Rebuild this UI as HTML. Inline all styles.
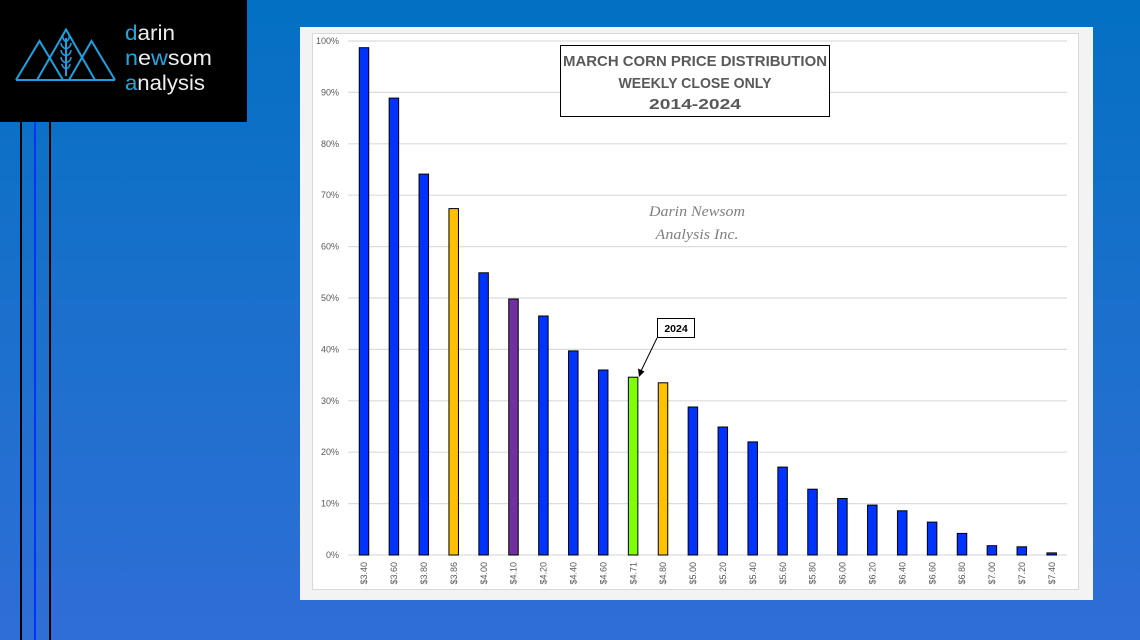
<!DOCTYPE html>
<html>
<head>
<meta charset="utf-8">
<style>
html,body{margin:0;padding:0;width:1140px;height:640px;overflow:hidden;}
svg{display:block;}
</style>
</head>
<body>
<svg width="1140" height="640" viewBox="0 0 1140 640" xmlns="http://www.w3.org/2000/svg">
<defs>
<linearGradient id="bg" x1="0" y1="0" x2="0" y2="1">
<stop offset="0" stop-color="#0370c3"/>
<stop offset="0.5" stop-color="#1b70cc"/>
<stop offset="1" stop-color="#2f6ed7"/>
</linearGradient>
</defs>
<rect x="0" y="0" width="1140" height="640" fill="url(#bg)"/>

<!-- left vertical lines -->
<rect x="20" y="120" width="2" height="520" fill="#000"/>
<rect x="34" y="120" width="2" height="520" fill="#0033ff"/>
<rect x="49" y="120" width="2" height="520" fill="#000"/>

<!-- logo -->
<rect x="0" y="0" width="247" height="122" fill="#000"/>
<g fill="none" stroke="#1ba1e2" stroke-width="2" stroke-linejoin="miter">
<line x1="16" y1="80" x2="115" y2="80"/>
<polyline points="16,80 39.5,41 63,80"/>
<polyline points="69,80 91.5,41 115,80"/>
<polyline points="37,80 66,29.5 95,80"/>
<line x1="66" y1="38" x2="66" y2="76"/>
<path d="M66,42 q-4,-3 -3,-7 M66,42 q4,-3 3,-7 M66,49 q-5,-2 -5,-6 M66,49 q5,-2 5,-6 M66,56 q-5,-2 -5,-6 M66,56 q5,-2 5,-6 M66,63 q-5,-2 -5,-6 M66,63 q5,-2 5,-6 M66,69 q-4,-2 -4,-5 M66,69 q4,-2 4,-5" stroke-width="1.5"/>
</g>
<g font-family="Liberation Sans, sans-serif" font-size="21" fill="#eeeeee">
<text x="125" y="40" textLength="50" lengthAdjust="spacingAndGlyphs"><tspan fill="#1ea8e2">d</tspan>arin</text>
<text x="125" y="65" textLength="87" lengthAdjust="spacingAndGlyphs"><tspan fill="#1ea8e2">n</tspan>e<tspan fill="#1ea8e2">w</tspan>som</text>
<text x="125" y="90" textLength="80" lengthAdjust="spacingAndGlyphs"><tspan fill="#1ea8e2">a</tspan>nalysis</text>
</g>

<!-- chart panel -->
<rect x="300" y="27" width="793" height="573" fill="#f3f3f3"/>
<rect x="312.5" y="33.5" width="766" height="556" fill="#ffffff" stroke="#d9d9d9" stroke-width="1"/>

<!-- gridlines -->
<g stroke="#dcdcdc" stroke-width="1.2">
<line x1="348" y1="41" x2="1067" y2="41"/>
<line x1="348" y1="92.4" x2="1067" y2="92.4"/>
<line x1="348" y1="143.8" x2="1067" y2="143.8"/>
<line x1="348" y1="195.2" x2="1067" y2="195.2"/>
<line x1="348" y1="246.6" x2="1067" y2="246.6"/>
<line x1="348" y1="298" x2="1067" y2="298"/>
<line x1="348" y1="349.4" x2="1067" y2="349.4"/>
<line x1="348" y1="400.8" x2="1067" y2="400.8"/>
<line x1="348" y1="452.2" x2="1067" y2="452.2"/>
<line x1="348" y1="503.6" x2="1067" y2="503.6"/>
<line x1="348" y1="555" x2="1067" y2="555"/>
</g>

<!-- y labels -->
<g font-family="Liberation Sans, sans-serif" font-size="9" fill="#595959" text-anchor="end">
<text x="339" y="44">100%</text>
<text x="339" y="95.4">90%</text>
<text x="339" y="146.8">80%</text>
<text x="339" y="198.2">70%</text>
<text x="339" y="249.6">60%</text>
<text x="339" y="301">50%</text>
<text x="339" y="352.4">40%</text>
<text x="339" y="403.8">30%</text>
<text x="339" y="455.2">20%</text>
<text x="339" y="506.6">10%</text>
<text x="339" y="558">0%</text>
</g>

<!-- bars -->
<g stroke="#000" stroke-width="1">
<rect x="359.25" y="47.7" width="9.5" height="507.3" fill="#0033ff"/>
<rect x="389.15" y="98.1" width="9.5" height="456.9" fill="#0033ff"/>
<rect x="419.05" y="174.1" width="9.5" height="380.9" fill="#0033ff"/>
<rect x="448.95" y="208.6" width="9.5" height="346.4" fill="#ffc000"/>
<rect x="478.85" y="272.8" width="9.5" height="282.2" fill="#0033ff"/>
<rect x="508.75" y="299" width="9.5" height="256" fill="#7030a0"/>
<rect x="538.65" y="316" width="9.5" height="239" fill="#0033ff"/>
<rect x="568.55" y="350.9" width="9.5" height="204.1" fill="#0033ff"/>
<rect x="598.45" y="370" width="9.5" height="185" fill="#0033ff"/>
<rect x="628.35" y="377.2" width="9.5" height="177.8" fill="#80ff00"/>
<rect x="658.25" y="382.8" width="9.5" height="172.2" fill="#ffc000"/>
<rect x="688.15" y="407" width="9.5" height="148" fill="#0033ff"/>
<rect x="718.05" y="427" width="9.5" height="128" fill="#0033ff"/>
<rect x="747.95" y="441.9" width="9.5" height="113.1" fill="#0033ff"/>
<rect x="777.85" y="467.1" width="9.5" height="87.9" fill="#0033ff"/>
<rect x="807.75" y="489.2" width="9.5" height="65.8" fill="#0033ff"/>
<rect x="837.65" y="498.5" width="9.5" height="56.5" fill="#0033ff"/>
<rect x="867.55" y="505.1" width="9.5" height="49.9" fill="#0033ff"/>
<rect x="897.45" y="510.8" width="9.5" height="44.2" fill="#0033ff"/>
<rect x="927.35" y="522.1" width="9.5" height="32.9" fill="#0033ff"/>
<rect x="957.25" y="533.4" width="9.5" height="21.6" fill="#0033ff"/>
<rect x="987.15" y="545.7" width="9.5" height="9.3" fill="#0033ff"/>
<rect x="1017.05" y="546.8" width="9.5" height="8.2" fill="#0033ff"/>
<rect x="1046.95" y="552.9" width="9.5" height="2.1" fill="#0033ff"/>
</g>

<!-- x labels -->
<g font-family="Liberation Sans, sans-serif" font-size="9" fill="#595959" text-anchor="end">
<text transform="translate(367.2,562) rotate(-90)">$3.40</text>
<text transform="translate(397.1,562) rotate(-90)">$3.60</text>
<text transform="translate(427,562) rotate(-90)">$3.80</text>
<text transform="translate(456.9,562) rotate(-90)">$3.86</text>
<text transform="translate(486.8,562) rotate(-90)">$4.00</text>
<text transform="translate(516.7,562) rotate(-90)">$4.10</text>
<text transform="translate(546.6,562) rotate(-90)">$4.20</text>
<text transform="translate(576.5,562) rotate(-90)">$4.40</text>
<text transform="translate(606.4,562) rotate(-90)">$4.60</text>
<text transform="translate(636.3,562) rotate(-90)">$4.71</text>
<text transform="translate(666.2,562) rotate(-90)">$4.80</text>
<text transform="translate(696.1,562) rotate(-90)">$5.00</text>
<text transform="translate(726,562) rotate(-90)">$5.20</text>
<text transform="translate(755.9,562) rotate(-90)">$5.40</text>
<text transform="translate(785.8,562) rotate(-90)">$5.60</text>
<text transform="translate(815.7,562) rotate(-90)">$5.80</text>
<text transform="translate(845.6,562) rotate(-90)">$6.00</text>
<text transform="translate(875.5,562) rotate(-90)">$6.20</text>
<text transform="translate(905.4,562) rotate(-90)">$6.40</text>
<text transform="translate(935.3,562) rotate(-90)">$6.60</text>
<text transform="translate(965.2,562) rotate(-90)">$6.80</text>
<text transform="translate(995.1,562) rotate(-90)">$7.00</text>
<text transform="translate(1025,562) rotate(-90)">$7.20</text>
<text transform="translate(1054.9,562) rotate(-90)">$7.40</text>
</g>

<!-- title box -->
<rect x="560.5" y="45.5" width="269" height="71" fill="#ffffff" stroke="#000" stroke-width="1"/>
<g font-family="Liberation Sans, sans-serif" font-weight="bold" font-size="15" fill="#595959" text-anchor="middle">
<text x="695" y="66" textLength="264" lengthAdjust="spacingAndGlyphs">MARCH CORN PRICE DISTRIBUTION</text>
<text x="695" y="88" textLength="153" lengthAdjust="spacingAndGlyphs">WEEKLY CLOSE ONLY</text>
<text x="695" y="109" textLength="92" lengthAdjust="spacingAndGlyphs">2014-2024</text>
</g>

<!-- watermark -->
<g font-family="Liberation Serif, serif" font-style="italic" font-size="15" fill="#808080" text-anchor="middle">
<text x="697" y="216" textLength="96" lengthAdjust="spacingAndGlyphs">Darin Newsom</text>
<text x="697" y="239" textLength="83" lengthAdjust="spacingAndGlyphs">Analysis Inc.</text>
</g>

<!-- 2024 annotation -->
<line x1="657" y1="338" x2="641" y2="371" stroke="#000" stroke-width="1"/>
<polygon points="639,377 638,368.5 644.5,371.5" fill="#000"/>
<rect x="657.5" y="318.5" width="37" height="19" fill="#ffffff" stroke="#000" stroke-width="1"/>
<text x="676" y="332" font-family="Liberation Sans, sans-serif" font-weight="bold" font-size="10.5" fill="#000" text-anchor="middle">2024</text>
</svg>
</body>
</html>
